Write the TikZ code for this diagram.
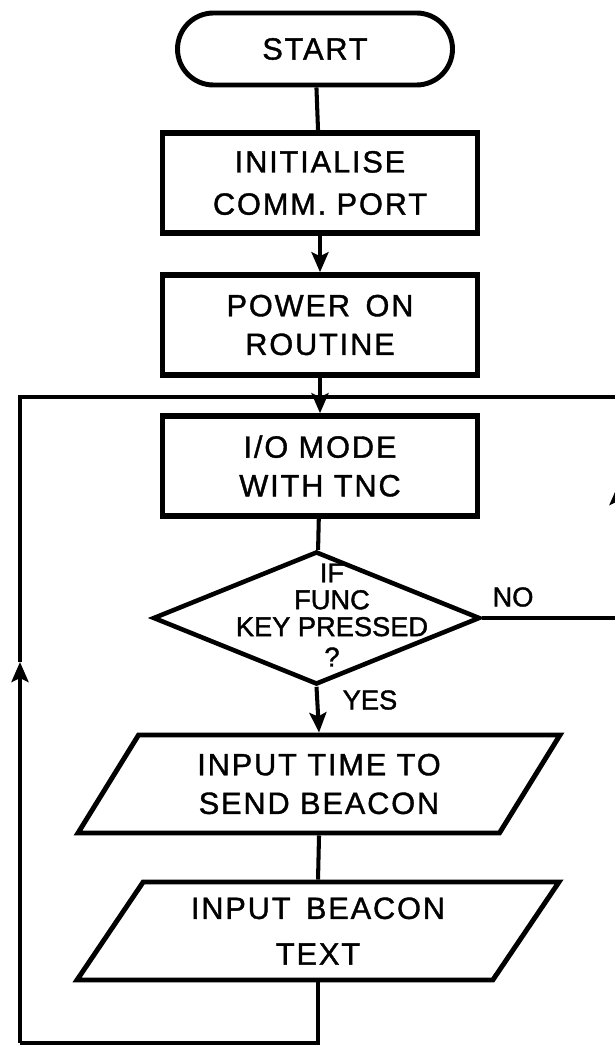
\documentclass[tikz,border=0pt]{standalone}
\usepackage{fontspec}
\newfontfamily\chartfont[LetterSpace=6,FakeBold=1.2]{Liberation Sans}
\newfontfamily\decfont[LetterSpace=0,FakeBold=1.4]{Liberation Sans}
\usepackage{tikz}
\usetikzlibrary{arrows.meta,positioning,shapes.geometric}

\begin{document}
\begin{tikzpicture}[every node/.style={font={\chartfont\fontsize{17.5}{22}\selectfont}},
    termbox/.style={draw,line width=2.8pt,rounded corners=0.72cm,
                    minimum width=5.5cm,minimum height=1.44cm},
    stepbox/.style={draw,line width=3.2pt,align=center,
                    minimum width=6.3cm,minimum height=2cm},
    decbox/.style={draw,diamond,line width=2.6pt,inner sep=0pt,
                   minimum width=6.54cm,minimum height=2.66cm},
    iobox/.style={draw,trapezium,trapezium left angle=50,trapezium right angle=130,
                  trapezium stretches body,line width=2.8pt,align=center,
                  minimum width=9.64cm,minimum height=1.96cm},
    small/.style={font={\decfont\fontsize{15.5}{15.3}\selectfont},align=center},
    flow/.style={line width=2.3pt},
    arr/.style={flow,-{Stealth[length=0.4cm,width=0.34cm,inset=0.08cm]}}]
        \useasboundingbox (0,0) rectangle (12.3,-20.9);
        \node[termbox] (start) at (6.30,-0.98) {START};
        \node[stepbox] (init) at (6.40,-3.66) {INITIALISE\\[2pt]COMM. PORT};
        \node[stepbox] (power) at (6.40,-6.50) {POWER\enspace ON\\ROUTINE};
        \node[stepbox] (io) at (6.40,-9.32) {I/O MODE\\WITH TNC};
        \node[decbox] (dec) at (6.33,-12.36) {};
        \node[small] (dectext) at (6.64,-12.30) {IF\\FUNC\\KEY PRESSED\\[2pt]?};
        \node[small] (no) at (10.26,-11.94) {NO};
        \node[small] (yes) at (7.40,-14.00) {YES};
        \node[iobox] (in1) at (6.38,-15.68) {INPUT TIME TO\\SEND BEACON};
        \node[iobox] (in2) at (6.36,-18.62) {INPUT\enspace BEACON\\[4pt]TEXT};
        % loop points
        \coordinate (jn) at (6.40,-7.94);
        \coordinate (rtop) at (12.36,-7.94);
        \coordinate (rmid) at (12.36,-9.70);
        \coordinate (rbot) at (dec.east -| rtop);
        \coordinate (lbot) at (0.40,-20.86);
        \coordinate (ltip) at (0.40,-13.24);
        \coordinate (ltop) at (0.40,-7.94);
        \draw[flow] (start) -- (init);
        \draw[arr] (init) -- (power);
        \draw[arr] (power) -- (io);
        \draw[flow] (io) -- (dec);
        \draw[arr] (dec.south) -- (in1.north);
        \draw[flow] (in1.south) -- (in2.north);
        \draw[flow] (dec.east) -- (rbot);
        \draw[arr] (rbot) -- (rmid);
        \draw[flow] (rmid) -- (rtop) -- (jn);
        \draw[flow] (in2.south) -- (in2.south |- lbot) -- (lbot);
        \draw[arr] (lbot) -- (ltip);
        \draw[flow] (ltip) -- (ltop) -- (jn);
      \end{tikzpicture}
\end{document}
